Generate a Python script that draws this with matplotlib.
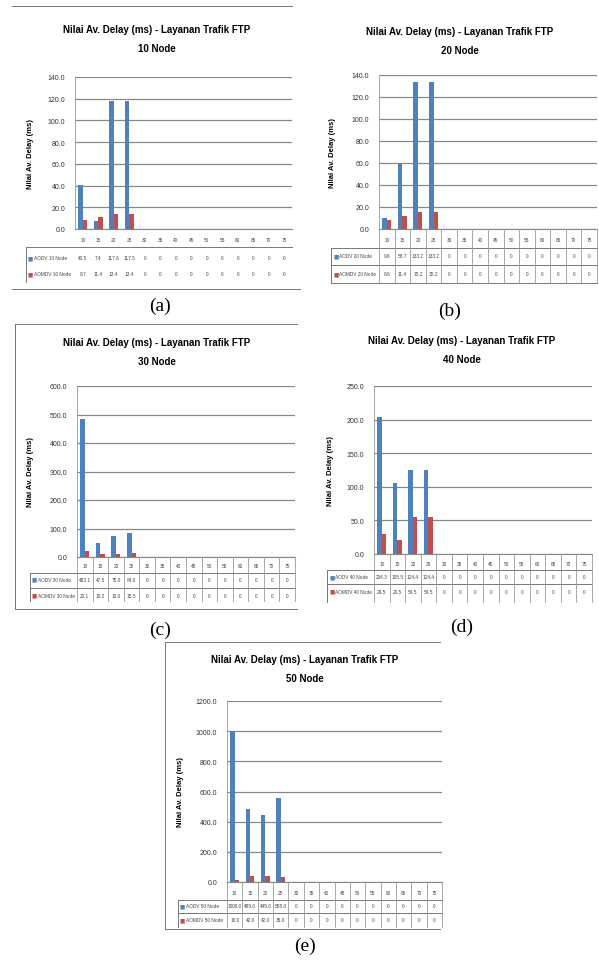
import matplotlib.pyplot as plt
from matplotlib.lines import Line2D
from matplotlib.transforms import blended_transform_factory
import numpy as np

plt.rcParams['font.family'] = ['Liberation Sans Narrow', 'Liberation Sans', 'DejaVu Sans']

W, H = 599, 962

# categories shown in every data table
cats = ['10', '15', '20', '25', '30', '35', '40', '45', '50', '55', '60', '65', '70', '75']

# values (ms), one list per series per panel
aodv_10 = [40.5, 7.4, 117.6, 117.5, 0, 0, 0, 0, 0, 0, 0, 0, 0, 0]
aomdv_10 = [8.7, 11.4, 13.4, 13.4, 0, 0, 0, 0, 0, 0, 0, 0, 0, 0]
aodv_20 = [9.6, 58.7, 133.2, 133.2, 0, 0, 0, 0, 0, 0, 0, 0, 0, 0]
aomdv_20 = [8.6, 11.4, 15.2, 15.2, 0, 0, 0, 0, 0, 0, 0, 0, 0, 0]
aodv_30 = [483.1, 47.5, 75.0, 84.0, 0, 0, 0, 0, 0, 0, 0, 0, 0, 0]
aomdv_30 = [20.1, 10.2, 10.0, 15.5, 0, 0, 0, 0, 0, 0, 0, 0, 0, 0]
aodv_40 = [204.3, 105.5, 124.4, 124.4, 0, 0, 0, 0, 0, 0, 0, 0, 0, 0]
aomdv_40 = [29.5, 20.5, 54.5, 54.5, 0, 0, 0, 0, 0, 0, 0, 0, 0, 0]
aodv_50 = [1000.0, 485.0, 445.0, 555.0, 0, 0, 0, 0, 0, 0, 0, 0, 0, 0]
aomdv_50 = [10.0, 42.0, 42.0, 35.0, 0, 0, 0, 0, 0, 0, 0, 0, 0, 0]

BLUE = '#4F81BD'
RED = '#C0504D'
GRID = '#888888'

fig = plt.figure(figsize=(W / 100, H / 100), dpi=100)


def fx(px):
    return px / W


def fy(py):
    return 1 - py / H


def line(x0, y0, x1, y1, color='#777777', lw=0.7):
    fig.add_artist(Line2D([fx(x0), fx(x1)], [fy(y0), fy(y1)], color=color, lw=lw))


def fmt(v):
    return '0' if v == 0 else '%.1f' % v


def panel(l, r, t, b, blue, red, nodes, ymax, step, title_x, title_y,
          ylab_x, tab_left, rows, hlines, tab_bottom, vlines=True):
    ax = fig.add_axes([fx(l), fy(b), fx(r) - fx(l), fy(t) - fy(b)])
    x = np.arange(len(cats))
    w = 0.286
    ax.bar(x - w / 2, blue, w, color=BLUE, zorder=3)
    ax.bar(x + w / 2, red, w, color=RED, zorder=3)
    ax.set_xlim(-0.5, len(cats) - 0.5)
    ax.set_ylim(0, ymax)
    ticks = np.arange(0, ymax + 0.1, step)
    ax.set_yticks(ticks)
    ax.set_yticklabels(['%.1f' % v for v in ticks])
    ax.set_xticks([])
    ax.yaxis.grid(True, color=GRID, lw=0.9)
    ax.set_axisbelow(True)
    for s in ['top', 'right']:
        ax.spines[s].set_visible(False)
    ax.spines['left'].set_color('#999999')
    ax.spines['left'].set_linewidth(0.6)
    ax.spines['bottom'].set_color(GRID)
    ax.tick_params(axis='y', length=0, labelsize=5, pad=7, colors='#333333')

    fig.text(fx(title_x), fy(title_y), 'Nilai Av. Delay (ms) - Layanan Trafik FTP',
             ha='center', va='center', fontsize=7, fontweight='bold')
    fig.text(fx(title_x), fy(title_y + 19), '%d Node' % nodes,
             ha='center', va='center', fontsize=7, fontweight='bold')
    fig.text(fx(ylab_x), (fy(t) + fy(b)) / 2, 'Nilai Av. Delay (ms)', rotation=90,
             ha='center', va='center', fontsize=5.5, fontweight='bold')

    # data table under the axis
    tr = blended_transform_factory(ax.transData, fig.transFigure)
    y_cat, y_r1, y_r2 = rows
    for i, c in enumerate(cats):
        ax.text(i, fy(y_cat), c, transform=tr, ha='center', va='center',
                fontsize=3.4, color='#444444', clip_on=False)
        ax.text(i, fy(y_r1), fmt(blue[i]), transform=tr, ha='center', va='center',
                fontsize=3.4, color='#444444', clip_on=False)
        ax.text(i, fy(y_r2), fmt(red[i]), transform=tr, ha='center', va='center',
                fontsize=3.4, color='#444444', clip_on=False)
    for yy, col, name in [(y_r1, BLUE, 'AODV'), (y_r2, RED, 'AOMDV')]:
        fig.text(fx(tab_left + 2), fy(yy), '\u25a0', color=col, fontsize=4,
                 ha='left', va='center', family='DejaVu Sans')
        fig.text(fx(tab_left + 8), fy(yy), '%s %d Node' % (name, nodes), color='#444444',
                 fontsize=3.4, ha='left', va='center')
    for yy in hlines:
        line(tab_left, yy, r, yy)
    line(tab_left, hlines[0], tab_left, tab_bottom)
    if vlines:
        for k in range(len(cats) + 1):
            xp = l + (r - l) * k / len(cats)
            line(xp, b, xp, tab_bottom, color='#999999', lw=0.6)
    return ax


# (a) 10 node
panel(75, 292, 78, 230, aodv_10, aomdv_10, 10, 140, 20, 157, 30, 30,
      26, (240, 259, 275), [248], 283, vlines=False)
# (b) 20 node
panel(379, 597, 76, 230, aodv_20, aomdv_20, 20, 140, 20, 460, 32, 333,
      331, (240, 257, 275), [249, 266, 284], 284)
# (c) 30 node
panel(77, 295, 387, 558, aodv_30, aomdv_30, 30, 600, 100, 157, 343, 31,
      30, (567, 580, 596), [574, 589], 602)
# (d) 40 node
panel(374, 592, 387, 555, aodv_40, aomdv_40, 40, 250, 50, 462, 341, 330,
      327, (565, 578, 592), [571, 585], 603)
# (e) 50 node
panel(227, 442, 702, 883, aodv_50, aomdv_50, 50, 1200, 200, 305, 660, 180,
      178, (894, 907, 921), [901, 914], 928)

# frames around the scanned charts
line(12, 7, 292, 7)
line(12, 290, 300, 290)
line(15, 325, 297, 325)
line(15, 325, 15, 610)
line(15, 610, 297, 610)
line(165, 643, 440, 643)
line(165, 643, 165, 930)
line(165, 930, 440, 930)

# sub-figure letters
for lx, ly, s in [(160, 306, '(a)'), (450, 311, '(b)'), (160, 630, '(c)'),
                  (462, 627, '(d)'), (305, 946, '(e)')]:
    fig.text(fx(lx), fy(ly), s, ha='center', va='center', fontsize=14,
             family='Liberation Serif')

fig.savefig('out.png', dpi=100)
